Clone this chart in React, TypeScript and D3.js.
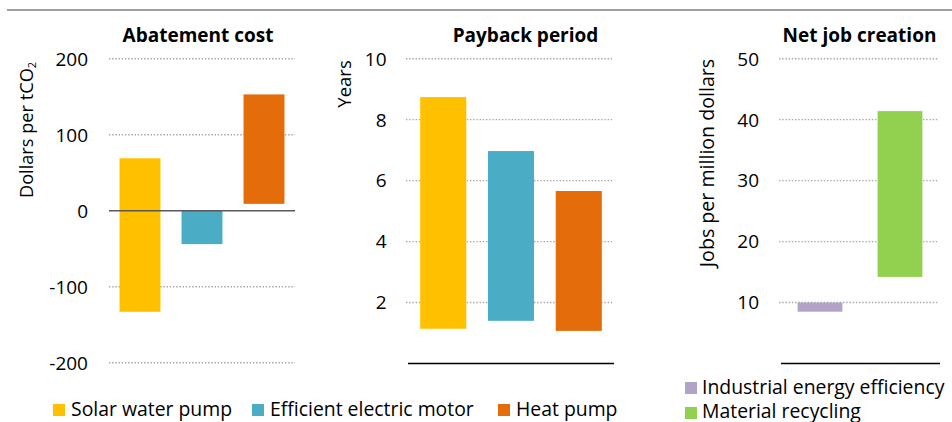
import React from "react";
import * as d3 from "d3";

// ---- Data ----
const abatementCategories = ["Solar water pump", "Efficient electric motor", "Heat pump"];
const abatementLow = [-133, -44, 9];
const abatementHigh = [69, 0, 153];
const abatementTicks = [-200, -100, 0, 100, 200];

const paybackCategories = ["Solar water pump", "Efficient electric motor", "Heat pump"];
const paybackLow = [1.14, 1.4, 1.07];
const paybackHigh = [8.74, 6.97, 5.66];
const paybackTicks = [2, 4, 6, 8, 10];

const jobCategories = ["Industrial energy efficiency", "Material recycling"];
const jobLow = [8.5, 14.2];
const jobHigh = [10, 41.4];
const jobTicks = [10, 20, 30, 40, 50];

const colorsA = ["#FFC000", "#4BACC6", "#E46C0A"];
const colorsJ = ["#B3A2C7", "#92D050"];

const FONT = "'Open Sans', sans-serif";

const grid = { stroke: "#a6a6a6", strokeWidth: 1.4, strokeDasharray: "1.4 1.8" };

export default function App() {
  // Panel 1
  const x1 = d3.scaleBand<string>().domain(abatementCategories).range([109, 295]).paddingInner(0.34).paddingOuter(0.17);
  const y1 = d3.scaleLinear().domain([-200, 200]).range([362.7, 58.7]);
  // Panel 2
  const x2 = d3.scaleBand<string>().domain(paybackCategories).range([408, 614]).paddingInner(0.32).paddingOuter(0.18);
  const y2 = d3.scaleLinear().domain([0, 10]).range([363.5, 58.7]);
  // Panel 3
  const x3 = d3.scaleBand<string>().domain(jobCategories).range([780, 940]).paddingInner(0.44).paddingOuter(0.22);
  const y3 = d3.scaleLinear().domain([0, 50]).range([363.5, 58.7]);

  const base = { fontFamily: FONT, fill: "#000" } as const;
  const legendStyle = { ...base, fontSize: 19.4 } as const;
  const tickStyle = { ...base, fontSize: 19 } as const;
  const titleStyle = { ...base, fontWeight: 700, fontSize: 19 } as const;

  return (
    <svg width={952} height={422} style={{ position: "absolute", left: 0, top: 0, background: "#fff" }}>
      <line x1={7} x2={952} y1={10} y2={10} stroke="#a0a0a0" strokeWidth={2} />

      {/* Panel 1 */}
      <text x={198} y={42} textAnchor="middle" style={titleStyle}>Abatement cost</text>
      {abatementTicks.filter((t) => t !== 0).map((t) => (
        <line key={t} x1={109} x2={295} y1={y1(t)} y2={y1(t)} {...grid} />
      ))}
      {abatementTicks.map((t) => (
        <text key={t} x={88} y={y1(t)} dy="0.36em" textAnchor="end" style={tickStyle}>{t}</text>
      ))}
      {abatementCategories.map((c, i) => (
        <rect key={c} x={x1(c)} width={x1.bandwidth()} y={y1(abatementHigh[i])} height={y1(abatementLow[i]) - y1(abatementHigh[i])} fill={colorsA[i]} />
      ))}
      <line x1={109} x2={295} y1={y1(0)} y2={y1(0)} stroke="#595959" strokeWidth={1.5} />
      <text transform={`translate(33,130) rotate(-90)`} textAnchor="middle" style={{ ...base, fontSize: 18.2 }}>
        Dollars per tCO<tspan fontSize={11} dy={3}>2</tspan>
      </text>

      {/* Panel 2 */}
      <text x={525.5} y={42} textAnchor="middle" style={titleStyle}>Payback period</text>
      {paybackTicks.map((t) => (
        <line key={t} x1={406} x2={612} y1={y2(t)} y2={y2(t)} {...grid} />
      ))}
      {paybackTicks.map((t) => (
        <text key={t} x={386.5} y={y2(t)} dy="0.36em" textAnchor="end" style={tickStyle}>{t}</text>
      ))}
      {paybackCategories.map((c, i) => (
        <rect key={c} x={x2(c)} width={x2.bandwidth()} y={y2(paybackHigh[i])} height={y2(paybackLow[i]) - y2(paybackHigh[i])} fill={colorsA[i]} />
      ))}
      <line x1={408} x2={614} y1={y2(0)} y2={y2(0)} stroke="#000" strokeWidth={1.3} />
      <text transform={`translate(351,84) rotate(-90)`} textAnchor="middle" style={{ ...base, fontSize: 18.5 }}>Years</text>

      {/* Panel 3 */}
      <text x={859.5} y={42} textAnchor="middle" style={titleStyle}>Net job creation</text>
      {jobTicks.map((t) => (
        <line key={t} x1={779} x2={939} y1={y3(t)} y2={y3(t)} {...grid} />
      ))}
      {jobTicks.map((t) => (
        <text key={t} x={759} y={y3(t)} dy="0.36em" textAnchor="end" style={tickStyle}>{t}</text>
      ))}
      {jobCategories.map((c, i) => (
        <rect key={c} x={x3(c)} width={x3.bandwidth()} y={y3(jobHigh[i])} height={y3(jobLow[i]) - y3(jobHigh[i])} fill={colorsJ[i]} />
      ))}
      <line x1={781} x2={940} y1={y3(0)} y2={y3(0)} stroke="#000" strokeWidth={1.3} />
      <text transform={`translate(714,163) rotate(-90)`} textAnchor="middle" style={{ ...base, fontSize: 19.6 }}>Jobs per million dollars</text>

      {/* Legend 1 */}
      {[
        { x: 53, tx: 71 },
        { x: 252, tx: 270 },
        { x: 498, tx: 516 },
      ].map((p, i) => (
        <g key={i}>
          <rect x={p.x} y={404} width={12} height={12} fill={colorsA[i]} />
          <text x={p.tx} y={416} style={legendStyle}>{abatementCategories[i]}</text>
        </g>
      ))}
      {/* Legend 2 */}
      {jobCategories.map((c, i) => (
        <g key={c}>
          <rect x={685} y={382 + i * 25} width={12} height={12} fill={colorsJ[i]} />
          <text x={702} y={394 + i * 24} style={legendStyle}>{c}</text>
        </g>
      ))}
    </svg>
  );
}
